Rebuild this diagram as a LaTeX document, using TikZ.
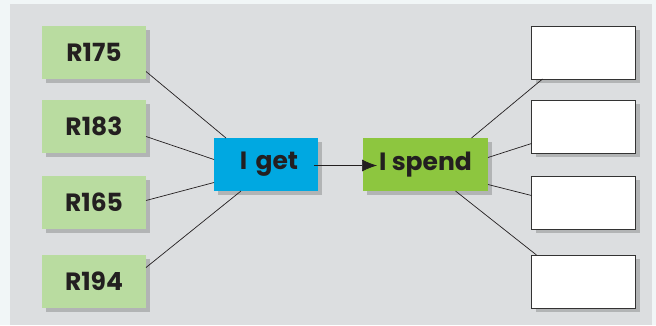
\documentclass[tikz,border=0pt]{standalone}
\usepackage{fontspec}
\setmainfont{Poppins}
\usetikzlibrary{shadows,arrows.meta}
\definecolor{outerbg}{HTML}{F1F6F7}
\definecolor{panel}{HTML}{DCDEE0}
\definecolor{lgreen}{HTML}{B9DCA0}
\definecolor{getblue}{HTML}{00A8E1}
\definecolor{spendgreen}{HTML}{8DC63F}
\definecolor{txt}{HTML}{231F20}
\tikzset{
  box/.style={minimum width=104pt, minimum height=53pt, inner sep=0pt, outer sep=0pt,
    font=\fontsize{25}{25}\selectfont\bfseries, text=txt,
    drop shadow={shadow xshift=4pt, shadow yshift=-4pt, opacity=0.35, fill=black!60}},
  amount/.style={box, fill=lgreen},
  blank/.style={box, fill=white, draw=black!80, line width=0.8pt},
  link/.style={draw=txt, line width=0.7pt}
}
\begin{document}
\begin{tikzpicture}[x=1pt,y=-1pt]
\fill[outerbg] (0,0) rectangle (656,325);
\fill[panel] (10,4) rectangle (652,325);
\useasboundingbox (0,0) rectangle (656,325);
\node[amount] (a1) at (94,52.5) {R175};
\node[amount] (a2) at (94,126.5) {R183};
\node[amount] (a3) at (94,202.5) {R165};
\node[amount] (a4) at (94,281.5) {R194};
\node[box, fill=getblue, minimum width=104pt, text width=104pt, align=center] (get) at (266,164.5) {\hspace*{6pt}I get};
\node[box, fill=spendgreen, minimum width=125pt] (spend) at (425.5,164.5) {I spend};
\node[blank] (b1) at (583.5,52.5) {};
\node[blank] (b2) at (583.5,126.5) {};
\node[blank] (b3) at (583.5,202.5) {};
\node[blank] (b4) at (583.5,281.5) {};
\draw[link] ([yshift=-19pt]a1.east) -- ([xshift=-40pt]get.north);
\draw[link] ([yshift=-10pt]a2.east) -- ([yshift=5pt]get.west);
\draw[link] ([yshift=2pt]a3.east) -- ([yshift=-18pt]get.west);
\draw[link] ([yshift=14pt]a4.east) -- ([xshift=-25pt]get.south);
\draw[link, -{Latex[length=15pt,width=12pt]}] ([xshift=-4pt,yshift=-1pt]get.east) -- ([xshift=14pt,yshift=-1pt]spend.west);
\draw[link] ([xshift=46pt]spend.north) -- ([xshift=-41pt]b1.south);
\draw[link] ([yshift=7pt]spend.east) -- ([yshift=-17pt]b2.west);
\draw[link] ([yshift=-20pt]spend.east) -- ([yshift=7pt]b3.west);
\draw[link] ([xshift=30pt]spend.south) -- ([xshift=-47pt]b4.north);
\end{tikzpicture}
\end{document}
